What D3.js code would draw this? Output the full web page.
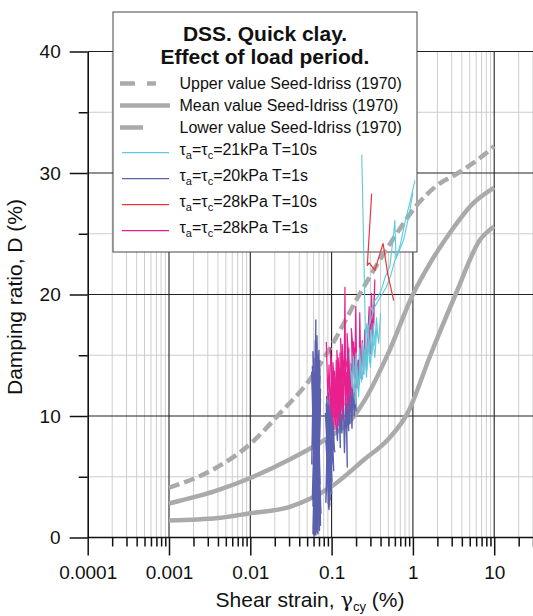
<!DOCTYPE html>
<html>
<head>
<meta charset="utf-8">
<script src="https://cdn.jsdelivr.net/npm/d3@7"></script>
<style>
  body { margin: 0; background: #fff; }
  svg { display: block; font-family: "Liberation Sans", Arial, sans-serif; }
</style>
</head>
<body>
<script>
// ---- data ----
const xDecades = [1e-4, 1e-3, 1e-2, 1e-1, 1, 10];
const xTickLabels = ["0.0001", "0.001", "0.01", "0.1", "1", "10"];
const yTicks = [0, 10, 20, 30, 40];
const yMinor = [5, 15, 25, 35];

// Seed-Idriss (1970) curves [strain %, damping %]
const upperSI = [[0.001,4.1],[0.0035,5.6],[0.01,7.7],[0.023,10.2],[0.054,13.0],[0.1,15.8],[0.22,20.0],[0.63,25.0],[1.1,27.3],[2,29.0],[3.6,30.0],[6,31.0],[10,32.2]];
const meanSI  = [[0.001,2.8],[0.004,3.9],[0.01,4.9],[0.03,6.4],[0.1,8.4],[0.17,9.6],[0.25,11.2],[0.5,15.2],[1.0,20.0],[1.6,22.5],[2.8,25.0],[5.5,27.5],[10,28.8]];
const lowerSI = [[0.001,1.4],[0.004,1.6],[0.01,2.0],[0.03,2.5],[0.1,4.2],[0.25,6.4],[0.5,8.1],[0.87,10.3],[1.64,15.0],[3.35,20.0],[6.7,24.5],[10,25.6]];

// tests: tau_a = tau_c = 21 kPa, T = 10 s (cyan)
const cyanRuns = [
  [[0.165,15.2],[0.178,12.4],[0.186,14.9],[0.196,11.0],[0.204,14.1],[0.214,12.0],[0.222,15.6],[0.232,12.8],[0.240,16.0],[0.250,13.4],[0.262,16.4],[0.272,13.8],[0.282,16.9],[0.292,14.4],[0.302,17.1],[0.314,15.0],[0.326,17.6],[0.34,15.8],[0.356,18.1],[0.37,16.6]],
  [[0.17,14.0],[0.19,12.0],[0.2,15.2],[0.215,11.6],[0.226,14.6],[0.24,13.0],[0.255,15.4],[0.268,13.2],[0.285,16.0],[0.3,14.0],[0.32,16.5],[0.34,14.8],[0.36,17.2],[0.38,16.0],[0.4,18.5]],
  [[0.235,31.5],[0.258,18.2],[0.262,15.6],[0.27,17.6],[0.28,16.4],[0.3,18.6],[0.34,19.5],[0.37,19.8],[0.41,20.4],[0.46,21.5],[0.52,22.3],[0.58,25.0],[0.6,26.1],[0.62,23.0],[0.7,24.1],[0.8,26.0],[0.92,27.6],[1.06,29.4]],
  [[0.268,16.8],[0.285,17.3],[0.31,18.1],[0.34,19.0],[0.4,19.8],[0.47,20.6],[0.53,21.5],[0.6,22.8],[0.68,23.6],[0.77,24.5],[0.9,26.6],[1.0,28.4]]
];
// tau_a = tau_c = 20 kPa, T = 1 s (blue)
const blueRuns = [
  [[0.062,0.2],[0.066,14.2],[0.059,0.6],[0.069,13.1],[0.061,0.1],[0.064,17.9],[0.060,1.2],[0.071,14.6],[0.063,0.4],[0.058,13.4],[0.066,0.8],[0.070,15.4],[0.061,1.6],[0.065,12.6],[0.059,0.3],[0.068,14.0],[0.064,0.9],[0.072,13.3],[0.060,2.1],[0.063,16.2],[0.067,0.5],[0.058,12.9],[0.065,1.4],[0.070,14.8],[0.062,0.2],[0.066,13.7],[0.059,2.6],[0.069,15.1],[0.063,0.7],[0.061,12.4],[0.068,1.9],[0.064,14.4],[0.060,0.4],[0.071,13.0],[0.066,3.1],[0.058,14.1],[0.067,1.1],[0.073,12.2],[0.062,0.6],[0.065,15.6],[0.070,2.4],[0.060,13.5],[0.064,1.0],[0.069,12.7],[0.061,3.6],[0.067,14.3],[0.072,4.4],[0.063,11.6],[0.059,2.9],[0.068,13.1],[0.065,5.0],[0.071,12.0],[0.062,4.2],[0.066,11.2],[0.069,6.3],[0.064,10.4]],
  [[0.057,6.0],[0.060,14.8],[0.062,0.3],[0.067,13.9],[0.073,1.0],[0.059,15.3],[0.064,0.2],[0.070,12.8],[0.058,3.2],[0.066,16.6],[0.071,0.6],[0.061,13.2],[0.074,2.0],[0.063,14.7],[0.068,0.3],[0.058,11.8],[0.065,2.7],[0.072,13.9],[0.060,0.9],[0.069,14.5],[0.063,1.7],[0.057,13.6],[0.067,0.4],[0.073,11.4],[0.062,2.3],[0.065,14.0],[0.070,3.8],[0.059,12.3],[0.066,1.5],[0.071,10.2]],
  [[0.086,9.8],[0.092,2.4],[0.088,11.2],[0.096,3.1],[0.090,10.5],[0.085,2.9],[0.094,9.6],[0.099,3.8],[0.087,11.6],[0.093,2.3],[0.091,10.9],[0.101,4.6],[0.089,9.1],[0.095,3.4],[0.084,10.2],[0.098,5.2],[0.092,11.9],[0.097,4.1],[0.104,9.4],[0.090,6.0],[0.100,10.8],[0.106,5.5],[0.096,9.9],[0.108,7.2],[0.102,11.4]],
  [[0.085,8.0],[0.095,2.6],[0.089,10.0],[0.099,4.4],[0.086,11.0],[0.093,3.0],[0.102,8.6],[0.088,4.8],[0.097,11.5],[0.091,2.8],[0.105,8.2],[0.094,6.4],[0.087,10.4],[0.1,3.6],[0.092,9.6],[0.11,7.0]],
  [[0.110,10.6],[0.118,8.0],[0.122,12.1],[0.128,7.4],[0.126,11.4],[0.134,8.6],[0.138,12.6],[0.144,7.0],[0.150,12.0],[0.156,5.8],[0.152,11.0],[0.162,8.8],[0.160,12.8],[0.168,9.4],[0.172,13.2],[0.178,9.0],[0.182,12.2],[0.190,10.0],[0.196,12.6],[0.200,10.4]]
];
// tau_a = tau_c = 28 kPa, T = 10 s (red)
const redRuns = [
  [[0.311,28.3],[0.275,22.4],[0.29,22.6],[0.34,22.0],[0.43,24.2],[0.49,21.7],[0.58,19.5]]
];
// tau_a = tau_c = 28 kPa, T = 1 s (pink)
const pinkRuns = [
  [[0.086,16.1],[0.090,11.4],[0.093,14.2],[0.097,10.2],[0.100,13.6],[0.103,9.4],[0.107,12.9],[0.110,8.9],[0.114,14.6],[0.117,9.8],[0.120,13.1],[0.123,9.2],[0.127,15.2],[0.131,10.4],[0.135,12.5],[0.139,9.7],[0.143,14.1],[0.146,20.6],[0.149,11.0],[0.154,13.6],[0.158,10.3],[0.163,15.6],[0.168,11.1],[0.173,14.3],[0.178,11.9],[0.186,16.1],[0.192,11.7],[0.198,19.0],[0.205,12.3],[0.212,14.6],[0.218,12.6],[0.222,18.5],[0.230,13.1],[0.238,16.2],[0.246,13.5],[0.256,17.1],[0.266,14.1],[0.278,16.6],[0.29,19.0],[0.298,15.1],[0.31,20.1],[0.318,16.2],[0.34,21.2],[0.33,17.4]],
  [[0.095,12.5],[0.105,10.0],[0.099,14.8],[0.112,9.3],[0.108,13.7],[0.121,9.9],[0.116,15.4],[0.13,10.8],[0.125,13.9],[0.14,10.5],[0.135,15.9],[0.148,11.6],[0.144,13.0],[0.158,12.0],[0.155,16.8],[0.17,12.4]],
  [[0.09,13.0],[0.101,10.8],[0.096,15.6],[0.11,10.1],[0.104,14.4],[0.118,9.0],[0.113,13.2],[0.126,10.0],[0.12,14.8],[0.134,11.2],[0.129,16.4],[0.142,10.9],[0.137,14.6],[0.152,12.2],[0.147,15.0],[0.165,12.8],[0.16,14.9],[0.18,13.3],[0.175,17.2],[0.195,13.2],[0.19,15.6],[0.21,13.8]]
];

const siLabels = ["Upper value Seed-Idriss (1970)", "Mean value Seed-Idriss (1970)", "Lower value Seed-Idriss (1970)"];
const testStress = ["21", "20", "28", "28"];
const testPeriod = ["10s", "1s", "10s", "1s"];
const testColors = ["#5ec9db", "#5a60ad", "#e8363a", "#e8208e"];

// ---- layout ----
const W = 533, H = 616;
const svg = d3.select("body").append("svg").attr("width", W).attr("height", H);

const x = d3.scaleLog().domain([1e-4, 100]).range([87.7, 575.5]);
const y = d3.scaleLinear().domain([0, 40]).range([537.5, 51.5]);
const xRight = W;

// minor x tick values (2..9 per decade)
const xMinor = [];
xDecades.forEach(d => { for (let k = 2; k <= 9; k++) if (x(d * k) <= xRight) xMinor.push(d * k); });

// grid
const grid = svg.append("g");
grid.selectAll(".vmin").data(xMinor).enter().append("line")
  .attr("x1", d => x(d)).attr("x2", d => x(d))
  .attr("y1", y(0)).attr("y2", y(40))
  .attr("stroke", "#cdcdcd").attr("stroke-width", 1);
grid.selectAll(".hmin").data(yMinor).enter().append("line")
  .attr("x1", x(1e-4)).attr("x2", xRight)
  .attr("y1", d => y(d)).attr("y2", d => y(d))
  .attr("stroke", "#cdcdcd").attr("stroke-width", 1);
grid.selectAll(".vmaj").data(xDecades.slice(1)).enter().append("line")
  .attr("x1", d => x(d)).attr("x2", d => x(d))
  .attr("y1", y(0)).attr("y2", y(40))
  .attr("stroke", "#222").attr("stroke-width", 1.1);
grid.selectAll(".hmaj").data(yTicks.slice(1)).enter().append("line")
  .attr("x1", x(1e-4)).attr("x2", xRight)
  .attr("y1", d => y(d)).attr("y2", d => y(d))
  .attr("stroke", "#222").attr("stroke-width", 1.1);

// legend box (data is drawn over it)
const lg = svg.append("g");
lg.append("rect").attr("x", 113).attr("y", 12).attr("width", 304).attr("height", 240)
  .attr("fill", "#fff").attr("stroke", "#444").attr("stroke-width", 1);
lg.append("text").attr("x", 265).attr("y", 41).attr("text-anchor", "middle")
  .attr("font-size", 21).attr("font-weight", "bold").attr("fill", "#111").text("DSS. Quick clay.");
lg.append("text").attr("x", 265).attr("y", 64).attr("text-anchor", "middle")
  .attr("font-size", 21).attr("font-weight", "bold").attr("fill", "#111").text("Effect of load period.");

const siSym = [
  { x2: 156, dash: "15,12" },
  { x2: 170, dash: null },
  { x2: 143, dash: null }
];
siLabels.forEach((t, i) => {
  const yy = 83.5 + 22 * i;
  lg.append("line").attr("x1", 120).attr("x2", siSym[i].x2).attr("y1", yy).attr("y2", yy)
    .attr("stroke", "#aaa").attr("stroke-width", 4.5)
    .attr("stroke-dasharray", siSym[i].dash);
  lg.append("text").attr("x", 179.5).attr("y", yy + 5.3).attr("font-size", 16)
    .attr("fill", "#111").text(t);
});
testStress.forEach((s, i) => {
  const yy = 152.7 + 26 * i;
  lg.append("line").attr("x1", 122).attr("x2", 169).attr("y1", yy).attr("y2", yy)
    .attr("stroke", testColors[i]).attr("stroke-width", 1.2);
  const t = lg.append("text").attr("x", 179.5).attr("y", yy + 2.5).attr("font-size", 16).attr("fill", "#111");
  t.append("tspan").text("τ");
  t.append("tspan").attr("font-size", 11).attr("dy", 4).text("a");
  t.append("tspan").attr("dy", -4).text("=τ");
  t.append("tspan").attr("font-size", 11).attr("dy", 4).text("c");
  t.append("tspan").attr("dy", -4).text("=" + s + "kPa T=" + testPeriod[i]);
});

// clip for plot content
svg.append("defs").append("clipPath").attr("id", "plotclip")
  .append("rect").attr("x", x(1e-4)).attr("y", 0).attr("width", xRight - x(1e-4)).attr("height", y(0));

const line = d3.line().x(d => x(d[0])).y(d => y(d[1]));
const smooth = d3.line().x(d => x(d[0])).y(d => y(d[1])).curve(d3.curveMonotoneX);

const plot = svg.append("g").attr("clip-path", "url(#plotclip)");

// Seed-Idriss curves
[[upperSI, "11,5"], [meanSI, null], [lowerSI, null]].forEach(([data, dash]) => {
  plot.append("path").datum(data).attr("d", smooth)
    .attr("fill", "none").attr("stroke", "#aaa").attr("stroke-width", 4.5)
    .attr("stroke-linecap", "butt")
    .attr("stroke-dasharray", dash);
});

// test data
[[blueRuns, testColors[1], 1.4], [pinkRuns, testColors[3], 1.2], [cyanRuns, testColors[0], 1.1], [redRuns, testColors[2], 1.2]]
  .forEach(([runs, col, sw]) => {
    plot.append("g").selectAll("path").data(runs).enter().append("path")
      .attr("d", line)
      .attr("fill", "none").attr("stroke", col).attr("stroke-width", sw)
      .attr("stroke-linejoin", "round");
  });

// axes
const xAxisMajor = d3.axisBottom(x).tickValues(xDecades).tickSize(18).tickSizeOuter(0).tickPadding(10)
  .tickFormat((d, i) => xTickLabels[i]);
const xAxisMinor = d3.axisBottom(x).tickValues(xMinor).tickSize(9).tickFormat("");
const gx = svg.append("g").attr("transform", `translate(0,${y(0)})`);
gx.call(xAxisMajor);
const gxm = svg.append("g").attr("transform", `translate(0,${y(0)})`);
gxm.call(xAxisMinor);
gxm.select(".domain").remove();
gx.select(".domain").attr("d", `M${x(1e-4)},0H${xRight}`);

const yAxisMajor = d3.axisLeft(y).tickValues(yTicks).tickSize(18).tickSizeOuter(0).tickPadding(9);
const yAxisMinor = d3.axisLeft(y).tickValues(yMinor).tickSize(9).tickFormat("");
const gy = svg.append("g").attr("transform", `translate(${x(1e-4)},0)`);
gy.call(yAxisMajor);
const gym = svg.append("g").attr("transform", `translate(${x(1e-4)},0)`);
gym.call(yAxisMinor);
gym.select(".domain").remove();

[gx, gxm, gy, gym].forEach(g => {
  g.selectAll("line").attr("stroke", "#111").attr("stroke-width", 1.5);
  g.selectAll(".domain").attr("stroke", "#111").attr("stroke-width", 1.6);
  g.selectAll("text").attr("font-size", 19).attr("fill", "#111")
    .attr("font-family", '"Liberation Sans", Arial, sans-serif');
});

// axis titles
const xt = svg.append("text").attr("x", 310).attr("y", 607).attr("text-anchor", "middle")
  .attr("font-size", 21).attr("fill", "#111");
xt.append("tspan").text("Shear strain, ");
xt.append("tspan").attr("font-family", '"DejaVu Serif", serif').text("γ");
xt.append("tspan").attr("font-size", 13).attr("dy", 4).text("cy");
xt.append("tspan").attr("dy", -4).text(" (%)");

svg.append("text").attr("transform", "translate(22,297) rotate(-90)")
  .attr("text-anchor", "middle").attr("font-size", 21).attr("fill", "#111")
  .text("Damping ratio, D (%)");
</script>
</body>
</html>
